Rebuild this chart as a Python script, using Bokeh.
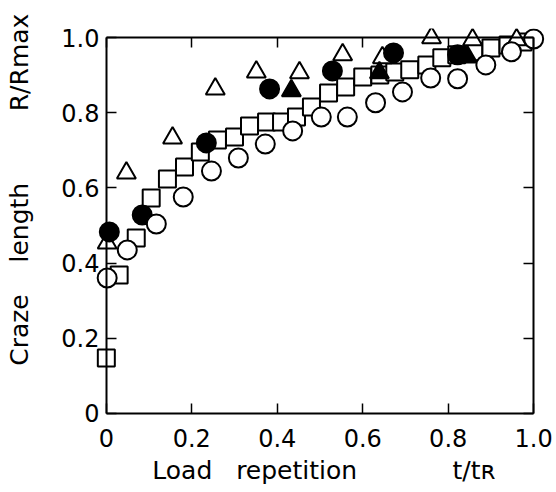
import math
from bokeh.plotting import figure
from bokeh.models import Range1d, LinearAxis, FixedTicker
from bokeh.embed import file_html
from bokeh.resources import INLINE

# ---- data ----
sq_x = [0.0, 0.03, 0.07, 0.105, 0.143, 0.183, 0.22, 0.26, 0.30, 0.335, 0.375, 0.41, 0.445,
        0.48, 0.52, 0.56, 0.60, 0.64, 0.675, 0.71, 0.75, 0.785, 0.82, 0.86, 0.90, 0.94, 0.975]
sq_y = [0.147, 0.368, 0.467, 0.573, 0.624, 0.656, 0.696, 0.728, 0.736, 0.765, 0.776, 0.776, 0.789,
        0.816, 0.853, 0.869, 0.896, 0.901, 0.909, 0.915, 0.928, 0.947, 0.955, 0.963, 0.973, 0.981, 0.989]

oc_x = [0.002, 0.049, 0.117, 0.18, 0.246, 0.309, 0.372, 0.436, 0.503, 0.564, 0.63, 0.693,
        0.759, 0.822, 0.888, 0.948, 1.0]
oc_y = [0.36, 0.435, 0.504, 0.576, 0.645, 0.68, 0.717, 0.752, 0.789, 0.789, 0.827, 0.856,
        0.893, 0.891, 0.928, 0.963, 0.997]

fc_x = [0.007, 0.084, 0.234, 0.382, 0.529, 0.672, 0.822]
fc_y = [0.483, 0.528, 0.72, 0.864, 0.912, 0.96, 0.955]

ft_x = [0.433, 0.639, 0.845]
ft_y = [0.859, 0.907, 0.949]

ot_x = [0.002, 0.047, 0.155, 0.255, 0.351, 0.452, 0.553, 0.646, 0.761, 0.857, 0.96]
ot_y = [0.453, 0.64, 0.733, 0.864, 0.909, 0.907, 0.955, 0.947, 1.0, 0.995, 0.995]

tick_values = [0.0, 0.2, 0.4, 0.6, 0.8, 1.0]
tick_labels = ["0", "0.2", "0.4", "0.6", "0.8", "1.0"]

NB = "\u00a0"
x_title = NB * 1 + "Load" + NB * 3 + "repetition" + NB * 12 + "t/t\u0280"
y_title = NB * 9 + "Craze" + NB * 4 + "length" + NB * 9 + "R/Rmax"

FONT = "DejaVu Sans"
TICK_FS = "24px"
TITLE_FS = "25px"

p = figure(width=556, height=492, output_backend="svg", toolbar_location=None,
           x_range=Range1d(-0.03, 1.03), y_range=Range1d(-0.025, 1.025),
           x_axis_type=None, y_axis_type=None,
           min_border_left=93, min_border_right=10, min_border_top=28, min_border_bottom=70)
p.outline_line_color = None
p.background_fill_color = "white"
p.border_fill_color = "white"

overrides = {v: s for v, s in zip(tick_values, tick_labels)}
blank = {v: "" for v in tick_values}


def box_axis(loc):
    # axis line + inward ticks drawn at a fixed data location (the frame of the chart)
    ax = LinearAxis(fixed_location=loc, bounds=(0, 1), ticker=FixedTicker(ticks=tick_values))
    ax.axis_line_width = 2
    ax.axis_line_color = "black"
    ax.major_tick_line_width = 1.5
    ax.major_tick_line_color = "black"
    ax.major_tick_in = 10
    ax.major_tick_out = 0
    ax.minor_tick_line_color = None
    ax.major_label_overrides = blank
    ax.major_label_standoff = 0
    return ax


def label_axis(standoff, title, title_standoff):
    # tick labels + title, placed at the frame edge
    ax = LinearAxis(ticker=FixedTicker(ticks=tick_values))
    ax.axis_line_color = None
    ax.major_tick_line_color = None
    ax.minor_tick_line_color = None
    ax.major_tick_in = 0
    ax.major_tick_out = 0
    ax.major_label_overrides = overrides
    ax.major_label_text_font = FONT
    ax.major_label_text_font_size = TICK_FS
    ax.major_label_text_color = "black"
    ax.major_label_standoff = standoff
    ax.axis_label = title
    ax.axis_label_text_font = FONT
    ax.axis_label_text_font_size = TITLE_FS
    ax.axis_label_text_font_style = "normal"
    ax.axis_label_text_color = "black"
    ax.axis_label_standoff = title_standoff
    return ax

p.add_layout(label_axis(-6, y_title, 24), "left")
p.add_layout(label_axis(6, x_title, 6), "below")
p.add_layout(box_axis(0.0), "left")
p.add_layout(box_axis(1.0), "right")
p.add_layout(box_axis(0.0), "below")
p.add_layout(box_axis(1.0), "above")

LW = 2
p.scatter(sq_x, sq_y, marker="square", size=17, fill_color="white", line_color="black", line_width=LW)
p.scatter(ot_x, ot_y, marker="triangle", size=19, fill_color="white", line_color="black", line_width=LW)
p.scatter(ft_x, ft_y, marker="triangle", size=19, fill_color="black", line_color="black", line_width=LW)
p.scatter(fc_x, fc_y, marker="circle", size=19, fill_color="black", line_color="black", line_width=LW)
p.scatter(oc_x, oc_y, marker="circle", size=19, fill_color="white", line_color="black", line_width=LW)

open("out.html", "w").write(file_html(p, INLINE))
